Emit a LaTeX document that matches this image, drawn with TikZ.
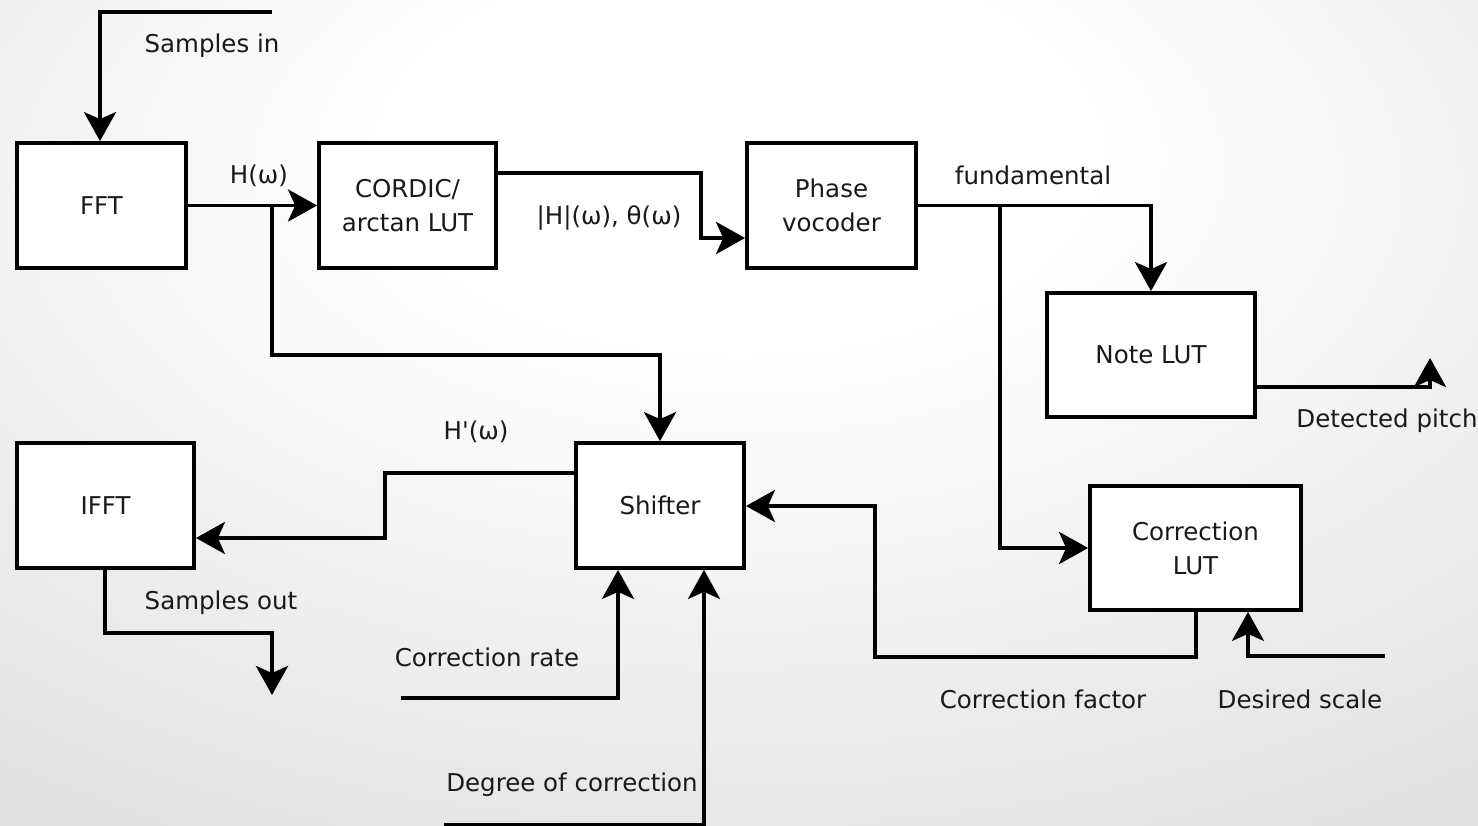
\documentclass[tikz,border=0pt]{standalone}
\usepackage{fontspec}
\setmainfont{DejaVu Sans}[Ligatures=TeXOff]
\usetikzlibrary{arrows.meta}
\pgfdeclareradialshading{bgshade}{\pgfpoint{0bp}{18bp}}{color(0bp)=(white); color(12bp)=(white); color(58bp)=(gray!36); color(100bp)=(gray!36)}
\begin{document}
\begin{tikzpicture}[x=1pt,y=-1pt,
  box/.style={draw=black, fill=white, line width=3.8pt, inner sep=0pt, align=center,
    font=\fontsize{24.5}{34}\selectfont, text=black!90},
  lbl/.style={inner sep=0pt, font=\fontsize{24.5}{34}\selectfont, text=black!90},
  wire/.style={line width=3.8pt, draw=black},
  arr/.style={wire, -{Stealth[length=29pt, width=32pt, inset=7pt]}}]
\useasboundingbox (0,0) rectangle (1478,826);
\shade[shading=bgshade] (0,0) rectangle (1478,826);

% boxes
\node[box, minimum width=169pt, minimum height=125pt] (fft) at (101.5,205.5) {FFT};
\node[box, minimum width=177pt, minimum height=125pt] (cordic) at (407.5,205.5) {CORDIC/\\arctan LUT};
\node[box, minimum width=169pt, minimum height=125pt] (phase) at (831.5,205.5) {Phase\\vocoder};
\node[box, minimum width=208pt, minimum height=124pt] (note) at (1151,355) {Note LUT};
\node[box, minimum width=211pt, minimum height=124pt] (corr) at (1195.5,548) {Correction\\LUT};
\node[box, minimum width=168pt, minimum height=125pt] (shift) at (660,505.5) {Shifter};
\node[box, minimum width=177pt, minimum height=125pt] (ifft) at (105.5,505.5) {IFFT};

% coordinates
\coordinate (sin) at (272,12);
\coordinate (sinb) at (100,12);
\coordinate (hb) at (272,205.5);
\coordinate (hd) at (272,355);
\coordinate (c1) at (701,173);
\coordinate (c2) at (701,238);
\coordinate (fb) at (1000,205.5);
\coordinate (f2) at (1000,548);
\coordinate (d1) at (1430,387);
\coordinate (d2) at (1430,358);
\coordinate (s1) at (385,473);
\coordinate (s2) at (385,538);
\coordinate (o1) at (105,633);
\coordinate (o2) at (272,633);
\coordinate (o3) at (272,695);
\coordinate (r0) at (401,698);
\coordinate (r1) at (618,698);
\coordinate (g0) at (444,825);
\coordinate (g1) at (704,825);
\coordinate (k1) at (1196,657);
\coordinate (k2) at (875,657);
\coordinate (k3) at (875,506);
\coordinate (e0) at (1385,656);
\coordinate (e1) at (1248,656);

% connectors
\draw[arr] (sin) -- (sinb) -- (sinb |- fft.north);
\draw[arr] (fft.east) -- (cordic.west);
\draw[arr] (hb) -- (hd) -- (hd -| shift.north) -- (shift.north);
\draw[arr] (cordic.east |- c1) -- (c1) -- (c2) -- (phase.west |- c2);
\draw[arr] (phase.east) -- (phase.east -| note.north) -- (note.north);
\draw[arr] (fb) -- (f2) -- (corr.west);
\draw[arr] (note.east |- d1) -- (d1) -- (d2);
\draw[arr] (shift.west |- s1) -- (s1) -- (s2) -- (ifft.east |- s2);
\draw[arr] (ifft.south -| o1) -- (o1) -- (o2) -- (o3);
\draw[arr] (r0) -- (r1) -- (r1 |- shift.south);
\draw[arr] (g0) -- (g1) -- (g1 |- shift.south);
\draw[arr] (corr.south -| k1) -- (k1) -- (k2) -- (k3) -- (shift.east |- k3);
\draw[arr] (e0) -- (e1) -- (e1 |- corr.south);

% labels
\node[lbl] (lsin) at (212,46) {Samples in};
\node[lbl] (lh) at (259,176) {H(ω)};
\node[lbl] (lmag) at (609,218) {|H|(ω), θ(ω)};
\node[lbl] (lfund) at (1033,175) {fundamental};
\node[lbl] (lpitch) at (1387,421) {Detected pitch};
\node[lbl] (lhp) at (476,432) {H'(ω)};
\node[lbl] (lsout) at (221,603) {Samples out};
\node[lbl] (lrate) at (487,657) {Correction rate};
\node[lbl] (ldeg) at (572,785) {Degree of correction};
\node[lbl] (lfac) at (1043,699) {Correction factor};
\node[lbl] (lscale) at (1300,699) {Desired scale};
\end{tikzpicture}
\end{document}
